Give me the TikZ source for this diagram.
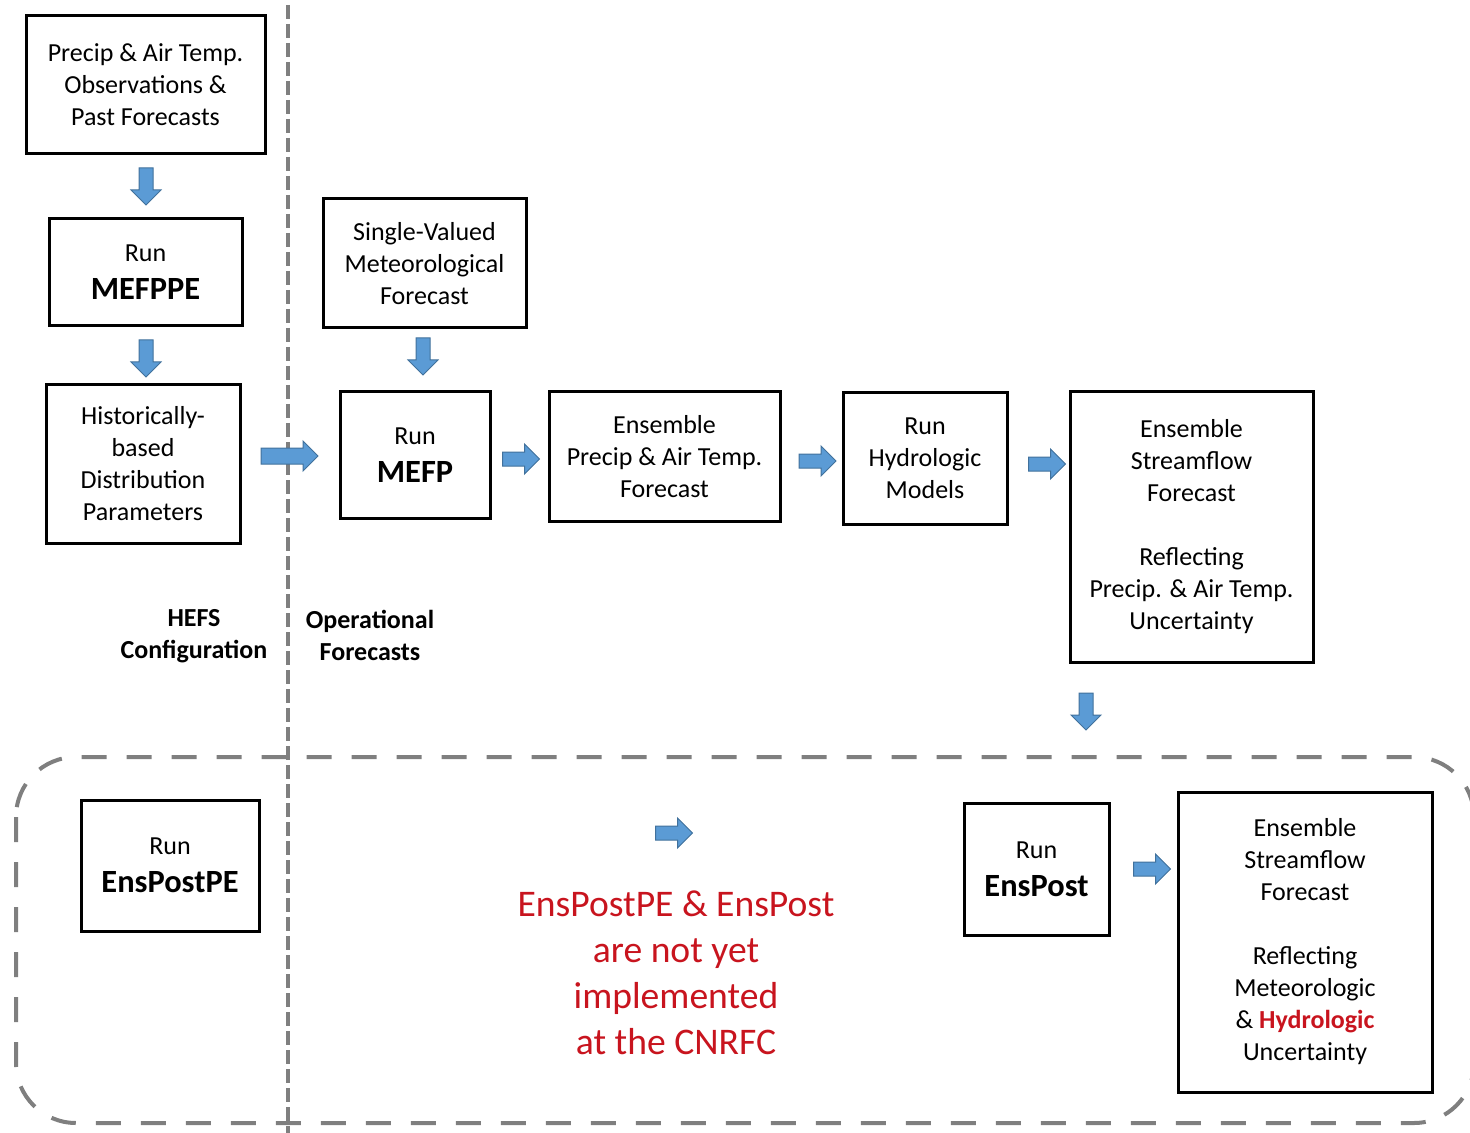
\documentclass[tikz,border=0pt]{standalone}
\usepackage{fontspec}
\setmainfont{Carlito}
\usetikzlibrary{shapes.arrows}
\definecolor{pfeilblau}{HTML}{5B9BD5}
\definecolor{pfeilrand}{HTML}{41719C}
\definecolor{trenngrau}{HTML}{7F7F7F}
\definecolor{hinweisrot}{RGB}{200,20,30}
\newcommand{\gross}[1]{{\fontsize{16.2}{19}\selectfont\bfseries #1}}

\begin{document}
\begin{tikzpicture}[x=0.5pt, y=-0.5pt,
    every node/.style={font=\fontsize{13}{16}\selectfont},
    kasten/.style={draw, line width=1.5pt, align=center, inner sep=0pt},
    pfeil/.style={single arrow, draw=pfeilrand, fill=pfeilblau, line width=0.5pt, inner xsep=0pt, inner ysep=3.25pt, single arrow head extend=4pt, minimum height=18.5pt},
    grosspfeil/.style={pfeil, inner ysep=3.75pt, single arrow head extend=3.5pt, minimum height=28.5pt},
    trenner/.style={trenngrau, line width=1.6pt, dash pattern=on 7pt off 2.5pt},
    rahmen/.style={trenngrau, line width=2pt, dash pattern=on 12.5pt off 10pt, rounded corners=30pt}]
    \useasboundingbox (0,0) rectangle (1470,1133);
    % Trennlinie und Rahmen
    \draw[trenner] (288,5) -- (288,1133);
    \draw[rahmen] (16,757) rectangle (1474,1123);
    % HEFS-Konfiguration
    \node[kasten, minimum width=119.5pt, minimum height=69pt] (beob) at (145.5,85) {Precip \& Air Temp.\\Observations \&\\Past Forecasts};
    \node[kasten, minimum width=96.5pt, minimum height=53.5pt] (mefppe) at (145.5,272.5) {Run\\[3pt]\gross{MEFPPE}};
    \node[kasten, minimum width=97pt, minimum height=79pt] (param) at (143,464) {Historically-\\based\\Distribution\\Parameters};
    % operationelle Vorhersage
    \node[kasten, minimum width=101.5pt, minimum height=64.5pt] (einwert) at (424.5,263.5) {Single-Valued\\Meteorological\\Forecast};
    \node[kasten, minimum width=75pt, minimum height=63pt] (mefp) at (415,455) {Run\\[3pt]\gross{MEFP}};
    \node[kasten, minimum width=115.5pt, minimum height=64.5pt] (ensmet) at (664.5,456.5) {Ensemble\\Precip \& Air Temp.\\Forecast};
    \node[kasten, minimum width=82pt, minimum height=65.5pt] (hydro) at (925,458.5) {Run\\Hydrologic\\Models};
    \node[kasten, minimum width=121.5pt, minimum height=135pt] (abfluss) at (1191.5,527) {Ensemble\\Streamflow\\Forecast\\[16pt]Reflecting\\Precip. \& Air Temp.\\Uncertainty};
    % Nachbearbeitung
    \node[kasten, minimum width=89pt, minimum height=65.5pt] (enspostpe) at (170,865.5) {Run\\[3pt]\gross{EnsPostPE}};
    \node[kasten, minimum width=72.5pt, minimum height=66pt] (enspost) at (1036.5,869) {Run\\[3pt]\gross{EnsPost}};
    \node[kasten, minimum width=127pt, minimum height=150pt] (abflussneu) at (1305,942) {Ensemble\\Streamflow\\Forecast\\[16pt]Reflecting\\Meteorologic\\\& \textcolor{hinweisrot}{\textbf{Hydrologic}}\\Uncertainty};
    % Beschriftungen
    \node[align=center, font=\fontsize{13}{16}\selectfont\bfseries] (hefs) at (194,636) {HEFS\\Configuration};
    \node[align=center, font=\fontsize{13}{16}\selectfont\bfseries] (oper) at (370,635) {Operational\\Forecasts};
    \node[align=center, text=hinweisrot, font=\fontsize{18.8}{23}\selectfont] (hinweis) at (676,973) {EnsPostPE \& EnsPost\\are not yet\\implemented\\at the CNRFC};
    % Blockpfeile
    \node[pfeil, rotate=-90] (p1) at (146,183) {};
    \node[pfeil, rotate=-90] (p2) at (146,355) {};
    \node[pfeil, rotate=-90] (p3) at (423,353) {};
    \node[grosspfeil] (p4) at (285.5,456) {};
    \node[pfeil] (p5) at (517.5,459) {};
    \node[pfeil] (p6) at (814,461) {};
    \node[pfeil] (p7) at (1043.5,464) {};
    \node[pfeil, rotate=-90] (p8) at (1086,708) {};
    \node[pfeil] (p9) at (670.5,833) {};
    \node[pfeil] (p10) at (1148.5,869) {};
\end{tikzpicture}
\end{document}
